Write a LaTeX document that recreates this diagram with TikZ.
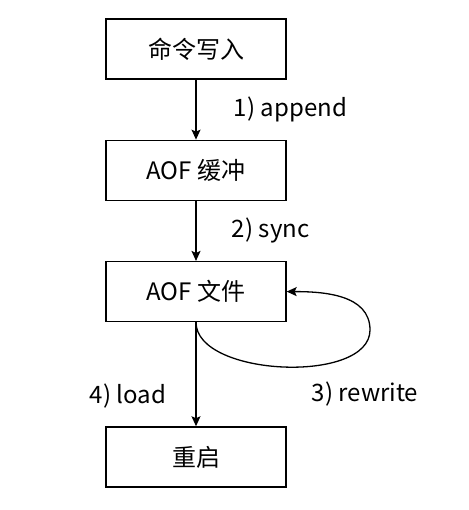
\documentclass[tikz,border=0pt]{standalone}
\usepackage{fontspec}
\setmainfont{Noto Sans CJK SC}
\usetikzlibrary{arrows.meta,positioning}

\begin{document}
\begin{tikzpicture}[
    x=1pt, y=1pt,
    node distance=60pt,
    font=\fontsize{24}{28}\selectfont,
    box/.style={draw, line width=1.3pt, minimum width=180pt, minimum height=60pt},
    arrow/.style={-{Stealth[length=10pt, width=9pt, inset=2pt]}, line width=1.3pt}
]
\useasboundingbox (0,0) rectangle (468,510);
\node[box] (cmd) at (196,461) {命令写入};
\node[box, below=of cmd] (buf) {AOF 缓冲};
\node[box, below=of buf] (file) {AOF 文件};
\node[box, below=104pt of file] (boot) {重启};
\coordinate (turn) at (370,180);
\node (rwlabel) at (365,116) {3) rewrite};

\draw[arrow] (cmd) -- node[right=34pt] {1) append} (buf);
\draw[arrow] (buf) -- node[right=32pt] {2) sync} (file);
\draw[arrow] (file) -- node[pos=0.71, left=26pt] {4) load} (boot);
\draw[arrow] (file.south) to[out=-90, in=-90, looseness=0.8] (turn)
    to[out=90, in=0] (file.east);
\end{tikzpicture}
\end{document}
